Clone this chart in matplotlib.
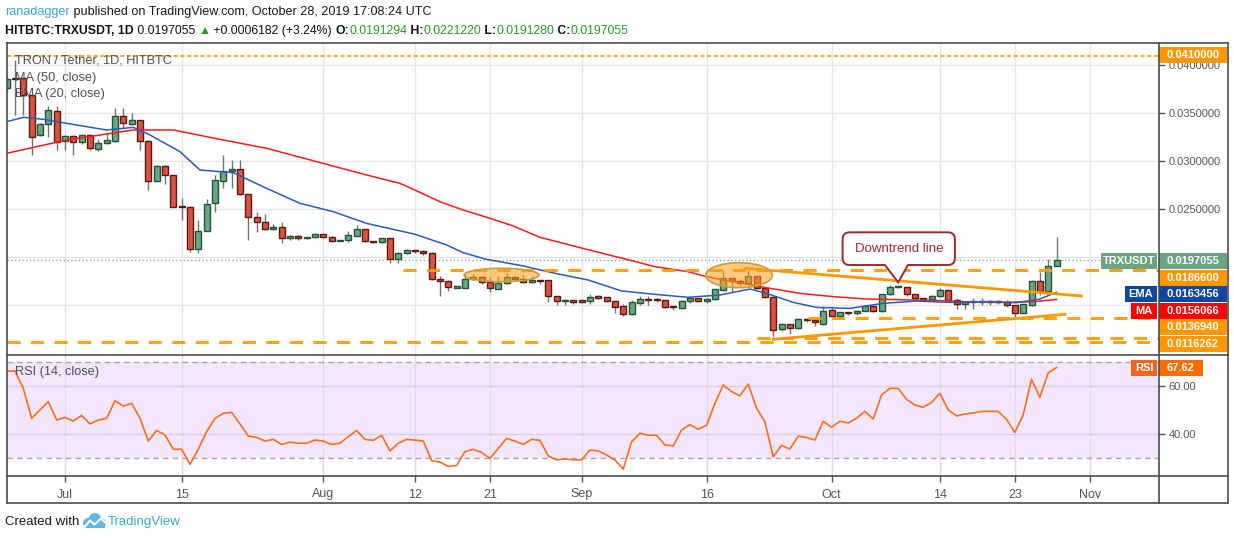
import numpy as np
import pandas as pd
import matplotlib
matplotlib.use("Agg")
import matplotlib.pyplot as plt
from matplotlib.patches import Rectangle, Ellipse, PathPatch, Circle
from matplotlib.path import Path
from matplotlib.lines import Line2D
from matplotlib.transforms import blended_transform_factory, ScaledTranslation, Affine2D
from matplotlib.offsetbox import TextArea, HPacker, AnnotationBbox

FONT = ['Liberation Sans', 'DejaVu Sans']
plt.rcParams['font.family'] = FONT

# TRX/USDT daily candles (HitBTC), 24 Jun - 28 Oct 2019, prices in 1e-4 USDT
start = "2019-06-24"
opens = [376.0, 386.4, 386.4, 369.0, 327.4, 338.5, 352.3,
         321.1, 326.7, 319.7, 327.4, 312.8, 318.7, 321.1, 346.8, 338.8, 342.6, 321.1, 279.4, 295.1, 285.7, 252.7, 252.7,
         208.6, 227.7, 256.2, 279.8, 289.9, 291.9, 265.6, 241.6, 237.1, 229.1, 231.2, 219.7, 222.5, 220.0, 220.8,
         223.9, 221.5, 217.0, 218.0, 222.5, 229.1, 216.6, 215.6, 219.7, 197.8, 204.1, 207.6, 206.5, 204.1, 177.0, 174.9,
         168.4, 168.4, 177.0, 179.1, 174.6, 167.3, 172.9, 179.1, 177.0, 173.9, 176.0, 176.0, 159.3, 154.0, 154.2,
         154.2, 154.1, 158.6, 158.6, 154.1, 149.2, 140.6, 152.7, 156.2, 155.2, 155.2, 148.2, 147.2, 154.1, 157.6,
         154.1, 156.5, 165.9, 178.0, 175.3, 172.9, 180.5, 167.6, 158.3, 125.3, 130.8, 126.0, 135.3, 135.0, 130.8,
         144.7, 138.8, 142.6, 141.6, 144.4, 149.6, 144.0, 161.4, 168.7, 168.7, 161.4, 157.6, 156.5, 160.0, 165.9,
         155.1, 151.0, 153.0, 153.1, 153.4, 153.1, 153.7, 149.9, 142.3, 150.3, 175.6, 165.2, 191.3]
highs = [390, 405.5, 388, 370, 339.5, 357.5, 357.5,
         327, 327.5, 328, 328, 323.2, 329.8, 355.1, 355.1, 349.9, 343, 322, 296, 296, 286, 261.4, 253.5,
         238.8, 260.3, 286.0, 306.5, 301.3, 301.3, 266, 246.8, 245.1, 234.6, 236.4, 223.5, 223, 221, 225.5,
         224.5, 222, 218.5, 227.7, 233.6, 229.5, 217, 220.5, 220, 205, 209.0, 208, 207.6, 205, 180.6, 176,
         169.5, 182.2, 183, 180.5, 179.1, 180, 184.0, 180.5, 181.7, 180.9, 176.5, 176.5, 159.5, 156.5, 155.5,
         155.5, 161.7, 160.7, 159, 154.5, 151.5, 155, 160.0, 160.0, 158, 155.9, 149, 155.5, 159.3, 158.0,
         157.5, 167, 186.7, 178.5, 177, 186.7, 181, 168, 159.5, 131.5, 131, 136.3, 135.5, 135.5, 149.6,
         147, 143, 143, 145.5, 150.5, 150.5, 162, 171.5, 170.5, 169, 162, 158, 161, 167.6, 167,
         157.6, 154, 157.6, 157.6, 155.5, 156, 155.5, 150.5, 151.5, 176.5, 184.7, 198.2, 221.2]
lows = [372, 348.2, 348, 306.5, 326, 325.6, 311.7,
        311.7, 306.5, 318, 311.7, 310.7, 318, 320, 334.3, 338, 311.7, 270.1, 279, 276.3, 252, 238.8, 205.8,
        204.1, 227, 247.5, 271.8, 271.8, 265, 218.0, 226.7, 228, 228.5, 214.5, 218.5, 218, 219.5, 220,
        220, 215.5, 216.5, 216, 222, 216, 215, 215, 193.7, 194.5, 203, 204, 202, 176, 159.6, 165.2,
        167.5, 167.5, 176, 172.2, 163.8, 167, 172, 175, 173, 173.5, 172, 153.8, 150.4, 150.4, 151,
        152, 151.8, 156.5, 153.5, 142.1, 139, 140, 150.4, 150.4, 153, 147, 144.8, 146.5, 152.5, 153,
        152.5, 155.5, 165, 164.1, 170, 172, 167, 158, 116.9, 123.5, 120.3, 125.5, 133, 128.1, 129,
        138, 137, 140, 139.5, 144, 143.5, 143.5, 160.5, 167.5, 159.5, 155.5, 155.5, 155, 159, 155,
        145.9, 145.9, 145.9, 150.5, 150, 151, 148.5, 137.4, 141.5, 149.6, 161, 162, 191.3]
closes = [385.3, 386.0, 369.0, 325.6, 338.5, 353.0, 320.4,
          326.7, 319.7, 327.7, 313.5, 318.7, 322.1, 346.8, 339.5, 342.6, 321.1, 279.4, 295.1, 285.7, 252.7, 252.4, 208.6,
          227.7, 255.5, 280.5, 289.9, 291.9, 265.6, 241.6, 237.1, 229.1, 231.2, 219.7, 222.5, 219.7, 220.8, 224.2,
          220.8, 216.6, 218.0, 222.8, 229.1, 216.6, 215.6, 219.7, 197.8, 204.1, 207.2, 206.5, 204.1, 177.0, 174.9, 168.7,
          168.8, 177.0, 179.1, 174.6, 167.7, 172.9, 179.1, 177.0, 173.9, 176.0, 175.3, 159.3, 154.1, 154.4, 153.9,
          153.9, 158.3, 158.0, 154.1, 148.6, 140.6, 153.1, 156.2, 155.2, 155.0, 147.9, 148.0, 154.1, 157.6, 154.1,
          156.5, 166.6, 178.0, 175.3, 172.9, 180.5, 167.6, 158.3, 124.2, 130.8, 126.0, 135.3, 134.3, 132.2, 144.4,
          138.8, 142.6, 141.6, 144.4, 149.6, 144.0, 161.4, 168.7, 169.4, 161.4, 157.2, 156.5, 160.0, 165.9, 155.5,
          151.0, 153.1, 153.4, 153.6, 153.1, 153.4, 149.9, 142.3, 151.0, 175.6, 165.2, 190.5, 197.1]

# RSI (14, close)
rsi = [66.2, 66.2, 59.0, 46.6, 50.1, 53.5, 45.9,
       47.0, 45.5, 47.8, 44.3, 45.9, 46.6, 53.9, 51.7, 52.8, 46.6, 37.2, 41.6, 39.7, 33.8, 33.8, 27.6,
       33.8, 41.1, 46.6, 48.7, 49.1, 44.3, 39.3, 38.7, 37.2, 37.9, 35.8, 36.7, 36.3, 36.3, 37.6,
       37.2, 35.8, 36.3, 39.0, 41.6, 37.9, 37.5, 39.6, 33.1, 36.3, 37.9, 37.6, 37.2, 29.1, 28.5, 26.7,
       27.1, 32.8, 33.8, 32.5, 30.0, 34.1, 38.3, 37.2, 35.8, 37.9, 37.5, 31.0, 29.4, 29.8, 29.4,
       29.4, 33.5, 33.1, 31.4, 29.4, 25.6, 36.9, 40.4, 39.6, 39.6, 35.6, 35.2, 41.8, 44.0, 42.1,
       43.7, 52.8, 60.4, 57.7, 55.9, 60.8, 50.8, 45.2, 30.7, 35.4, 33.9, 39.2, 38.7, 37.6, 45.4,
       42.9, 45.4, 44.7, 46.6, 49.5, 46.3, 56.3, 59.0, 59.0, 54.5, 52.1, 51.2, 53.2, 57.0, 50.1,
       47.6, 48.4, 48.8, 49.5, 49.5, 49.5, 46.2, 40.8, 48.0, 62.8, 55.3, 65.5, 67.62]

# EMA(20) and MA(50) read at sample days (days since 1 Jul 2019), 1e-4 USDT
ema_day = [-7, -5, -2.6, 0.2, 5, 8.2, 10.2, 13.8, 16.2, 20.2, 24.2, 28.2, 32.2, 36.2, 42, 45.8, 47.8, 50.5,
           54.8, 58.8, 62.8, 66.8, 70.8, 74.8, 78.6, 82.2, 84.2, 87.4, 90.2, 94.2, 98.2, 102.2, 106.2, 110.2,
           114.2, 117, 119]
ema_val = [341.2, 345.8, 343.7, 339.5, 332.6, 335.3, 327.4, 310.0, 290.9, 288.1, 271.8, 256.2, 247.5, 235.3,
           224.0, 212.8, 204.8, 198.0, 191.3, 183.3, 176.3, 164.9, 161.4, 158.3, 160.7, 166.9, 162.4, 153.0,
           147.8, 146.8, 152.0, 154.4, 153.0, 153.7, 152.7, 156.5, 163.5]
ma_day = [-7, 0.2, 8.2, 13, 18.2, 24.2, 30.2, 36.2, 40.2, 42, 45, 47.8, 51, 53.8, 57, 62.5, 65.8, 67.4, 70.8,
          74.8, 77, 80.2, 84.2, 88.2, 92.2, 96.2, 100.2, 104.2, 108.2, 112.2, 116.2, 119]
ma_val = [308.3, 322.1, 332.6, 332.6, 323.5, 313.5, 299.6, 285.7, 277.0, 270.0, 257.9, 249.2, 240.6, 232.6,
          220.8, 208.5, 201.3, 197.9, 190.2, 185.0, 179.8, 174.6, 168.3, 162.4, 159.0, 156.5, 155.8, 155.1,
          153.7, 153.0, 153.7, 156.1]

tick_dates = ["2019-07-01", "2019-07-15", "2019-08-01", "2019-08-12", "2019-08-21", "2019-09-01",
              "2019-09-16", "2019-10-01", "2019-10-14", "2019-10-23", "2019-11-01"]
tick_labels = ["Jul", "15", "Aug", "12", "21", "Sep", "16", "Oct", "14", "23", "Nov"]

last_price = 0.0197055
ema_last, ma_last = 0.0163456, 0.0156066
levels = [0.0410000, 0.0186600, 0.0136940, 0.0116262]

assert len(opens) == len(highs) == len(lows) == len(closes) == len(rsi)

W, H = 1234, 540
ORANGE = '#ff9800'
GRID = '#e6e6e6'
FRAME = '#4d4d4d'
TXT = '#555555'

jul1 = pd.Timestamp("2019-07-01")
dates = pd.date_range(start, periods=len(opens), freq="D")
x = np.asarray((dates - jul1).days, dtype=float)
o, h, l, c = (np.array(v) * 1e-4 for v in (opens, highs, lows, closes))
ema_v = np.array(ema_val) * 1e-4
ma_v = np.array(ma_val) * 1e-4
ticks = [(pd.Timestamp(d) - jul1).days for d in tick_dates]


def rect(x0, y0, x1, y1):
    return [x0 / W, 1 - y1 / H, (x1 - x0) / W, (y1 - y0) / H]


fig = plt.figure(figsize=(W / 100, H / 100), dpi=100)
fig.patch.set_facecolor('white')
ax = fig.add_axes(rect(7, 43, 1159, 355))
axr = fig.add_axes(rect(7, 355, 1159, 476), sharex=ax)

XMIN, XMAX = -6.96, 131.3
ax.set_xlim(XMIN, XMAX)
ax.set_ylim(0.00982, 0.04232)
axr.set_ylim(22.73, 72.84)

for a in (ax, axr):
    for s in a.spines.values():
        s.set_visible(False)
    for t in ticks:
        a.axvline(t, color=GRID, lw=1, zorder=0)

# ---- price panel
price_ticks = np.arange(0.015, 0.0401, 0.005)
for v in price_ticks:
    ax.axhline(v, color=GRID, lw=1, zorder=0)

ax.axhline(last_price, color='#6ba583', lw=0.9, ls=(0, (1, 2)), zorder=1)

up = c >= o
ax.vlines(x, l, h, color='#737375', lw=1, zorder=2)
ax.bar(x, np.maximum(np.abs(c - o), 0.00012), bottom=np.minimum(o, c), width=0.72,
       color=np.where(up, '#6ba583', '#d75442'), edgecolor=np.where(up, '#225437', '#5b1a13'),
       linewidth=1, zorder=3)

ax.plot(ma_day, ma_v, color='#ff1a1a', lw=1.1, zorder=4)
ax.plot(ema_day, ema_v, color='#2a5bbf', lw=1.1, zorder=4)

# horizontal levels
ax.axhline(levels[0], color=ORANGE, lw=1.2, ls=(0, (2.5, 1.5)), zorder=5)
dash = dict(color=ORANGE, lw=2.2, ls=(0, (4.3, 3.4)), alpha=0.9, zorder=5)
ax.hlines(levels[1], 40.6, XMAX, **dash)
ax.hlines(levels[2], 89.2, XMAX, **dash)
ax.hlines(levels[3], 83.0, XMAX, **dash)
ax.hlines(0.01114, XMIN, XMAX, **dash)

# trend lines
ax.plot([81.7, 122.0], [0.01885, 0.01597], color=ORANGE, lw=2, zorder=6)
ax.plot([85.0, 120.0], [0.01146, 0.01406], color=ORANGE, lw=2, zorder=6)

# highlighted zones
for cx, cy, ew, eh in [(52.4, 0.01815, 9.0, 0.0014), (80.9, 0.01813, 8.0, 0.0026)]:
    ax.add_patch(Ellipse((cx, cy), ew, eh, facecolor=(1.0, 0.62, 0.1, 0.55),
                         edgecolor='#c2a03a', lw=1.2, zorder=7))

# "Downtrend line" callout
tip_x, tip_y = 100.0, 0.01739
Lb, Rb, Bb, Tb, r = -55.6, 56.7, 17.3, 50.0, 7.0
tl, tr = -13.3, 9.7
pts = [(Lb + r, Bb), (tl, Bb), (0, 0), (tr, Bb), (Rb - r, Bb), (Rb, Bb), (Rb, Bb + r), (Rb, Tb - r),
       (Rb, Tb), (Rb - r, Tb), (Lb + r, Tb), (Lb, Tb), (Lb, Tb - r), (Lb, Bb + r), (Lb, Bb), (Lb + r, Bb),
       (Lb + r, Bb)]
codes = [Path.MOVETO, Path.LINETO, Path.LINETO, Path.LINETO, Path.LINETO, Path.CURVE3, Path.CURVE3,
         Path.LINETO, Path.CURVE3, Path.CURVE3, Path.LINETO, Path.CURVE3, Path.CURVE3, Path.LINETO,
         Path.CURVE3, Path.CURVE3, Path.CLOSEPOLY]
bubble = Path(np.array(pts) / 100.0, codes)
btrans = fig.dpi_scale_trans + ScaledTranslation(tip_x, tip_y, ax.transData)
ax.add_patch(PathPatch(bubble, transform=btrans, facecolor='white', edgecolor='#a3262e', lw=1.4,
                       zorder=9, clip_on=False))
ax.annotate("Downtrend line", xy=(tip_x, tip_y), xytext=((Lb + Rb) / 2 * 0.72, (Bb + Tb) / 2 * 0.72),
            textcoords='offset points', ha='center', va='center', color='#a3262e', fontsize=9.5, zorder=10)

# panel legend
for yy, s in [(60.5, "TRON / Tether, 1D, HITBTC"), (78, "MA (50, close)"), (94.5, "EMA (20, close)")]:
    fig.text(15 / W, 1 - yy / H, s, color='#505050', fontsize=9.2, va='center', ha='left', zorder=12)

# right price scale (labels under the tags are hidden, as on the chart)
ax.yaxis.tick_right()
ax.set_yticks(price_ticks)
ax.set_yticklabels(["" if v < 0.0225 else f"{v:.7f}" for v in price_ticks])
ax.tick_params(axis='y', length=4, width=1, color=TXT, labelcolor=TXT, labelsize=8, pad=3)
ax.tick_params(axis='x', bottom=False, labelbottom=False)


def tag(a, yv, text, color, x0, x1, h_px=16):
    tr_ = blended_transform_factory(a.transAxes, a.transData)
    lo, hi = a.get_ylim()
    hh = h_px * (hi - lo) / a.bbox.height
    a.add_patch(Rectangle((x0, yv - hh / 2), x1 - x0, hh, transform=tr_, facecolor=color,
                          edgecolor='none', clip_on=False, zorder=20))
    a.text((x0 + x1) / 2, yv, text, transform=tr_, ha='center', va='center', color='white',
           fontsize=8, fontweight='bold', clip_on=False, zorder=21)


VX0, VX1 = 1.0, 1.059
tag(ax, 0.04104, f"{levels[0]:.7f}", ORANGE, VX0, VX1)
tag(ax, 0.01964, f"{last_price:.7f}", '#6ba583', VX0, VX1)
tag(ax, 0.01964, "TRXUSDT", '#6ba583', 0.9497, 0.9983)
tag(ax, 0.01789, f"{levels[1]:.7f}", ORANGE, VX0, VX1)
tag(ax, 0.01614, f"{ema_last:.7f}", '#0d47a1', VX0, VX1)
tag(ax, 0.01614, "EMA", '#0d47a1', 0.9705, 0.9983)
tag(ax, 0.01437, f"{ma_last:.7f}", '#ff0000', VX0, VX1)
tag(ax, 0.01437, "MA", '#ff0000', 0.9757, 0.9983)
tag(ax, 0.01271, f"{levels[2]:.7f}", ORANGE, VX0, VX1)
tag(ax, 0.01093, f"{levels[3]:.7f}", ORANGE, VX0, VX1)

# ---- RSI panel
axr.axhspan(30, 70, color='#f3e7fd', zorder=0, lw=0)
for t in ticks:
    axr.axvline(t, color='#e0d8e8', lw=1, zorder=0.5)
for v in (40, 60):
    axr.axhline(v, color='#d8cfe2', lw=1, zorder=1)
for v in (30, 70):
    axr.axhline(v, color='#aaa2b4', lw=1, ls=(0, (4, 3)), zorder=1)
axr.plot(x, rsi, color='#ff6d1f', lw=1.2, zorder=3)
fig.text(15 / W, 1 - 372.5 / H, "RSI (14, close)", color='#505050', fontsize=9.2, va='center', ha='left')

axr.yaxis.tick_right()
axr.set_yticks([40, 60])
axr.set_yticklabels(["40.00", "60.00"])
axr.tick_params(axis='y', length=4, width=1, color=TXT, labelcolor=TXT, labelsize=8, pad=3)
axr.set_xticks(ticks)
axr.set_xticklabels(tick_labels)
axr.tick_params(axis='x', length=4, width=1, color=TXT, labelcolor=TXT, labelsize=9, pad=5)
tag(axr, 67.62, f"{rsi[-1]:.2f}", '#ff6d00', 1.0, 1.0382)
tag(axr, 67.62, "RSI", '#f4661b', 0.9757, 0.9983)


# frame
def fline(x0, y0, x1, y1):
    fig.add_artist(Line2D([x0 / W, x1 / W], [1 - y0 / H, 1 - y1 / H], transform=fig.transFigure,
                          color=FRAME, lw=1.2, zorder=30))


fline(7, 43, 1228, 43)
fline(7, 503, 1228, 503)
fline(7, 43, 7, 503)
fline(1228, 43, 1228, 503)
fline(1159, 43, 1159, 503)
fline(7, 355, 1228, 355)
fline(7, 476, 1228, 476)


# ---- header and footer
def text_row(parts, x_px, y_px, size):
    kids = [TextArea(s, textprops=dict(color=col, fontsize=size, fontweight=w, family=FONT))
            for s, col, w in parts]
    row = HPacker(children=kids, align='baseline', pad=0, sep=0)
    fig.add_artist(AnnotationBbox(row, (x_px / W, 1 - y_px / H), xycoords='figure fraction',
                                  box_alignment=(0, 0.5), frameon=False, pad=0))


GREEN = '#22a022'
BLUE = '#3ba4e0'
text_row([("ranadagger", BLUE, 'normal'),
          (" published on TradingView.com, October 28, 2019 17:08:24 UTC", '#1a1a1a', 'normal')], 5, 12, 9.1)
text_row([("HITBTC:TRXUSDT, 1D", '#111111', 'bold'), (" 0.0197055 ", '#111111', 'normal'),
          ("▲", GREEN, 'normal'), (" +0.0006182 (+3.24%) ", '#111111', 'normal'),
          ("O:", '#111111', 'bold'), ("0.0191294", GREEN, 'normal'),
          (" H:", '#111111', 'bold'), ("0.0221220", GREEN, 'normal'),
          (" L:", '#111111', 'bold'), ("0.0191280", GREEN, 'normal'),
          (" C:", '#111111', 'bold'), ("0.0197055", GREEN, 'normal')], 5, 31, 8.8)

text_row([("Created with", '#1a1a1a', 'normal')], 5, 522, 9.5)
pix = Affine2D().scale(1, -1).translate(0, H)
for cx, cy, rr in [(88, 523, 5), (95, 519.5, 6.5), (101.5, 523, 4.5)]:
    fig.add_artist(Circle((cx, cy), rr, transform=pix, facecolor='#5db7e8', edgecolor='none'))
fig.add_artist(Rectangle((84, 522), 21, 6, transform=pix, facecolor='#5db7e8', edgecolor='none'))
fig.add_artist(Line2D([85, 90, 94.5, 101, 105], [526.5, 520.5, 524.5, 518.5, 522.5], transform=pix,
                      color='white', lw=1.5))
text_row([("TradingView", BLUE, 'normal')], 108, 522, 9.5)

fig.savefig("out.png", dpi=100, facecolor='white')
